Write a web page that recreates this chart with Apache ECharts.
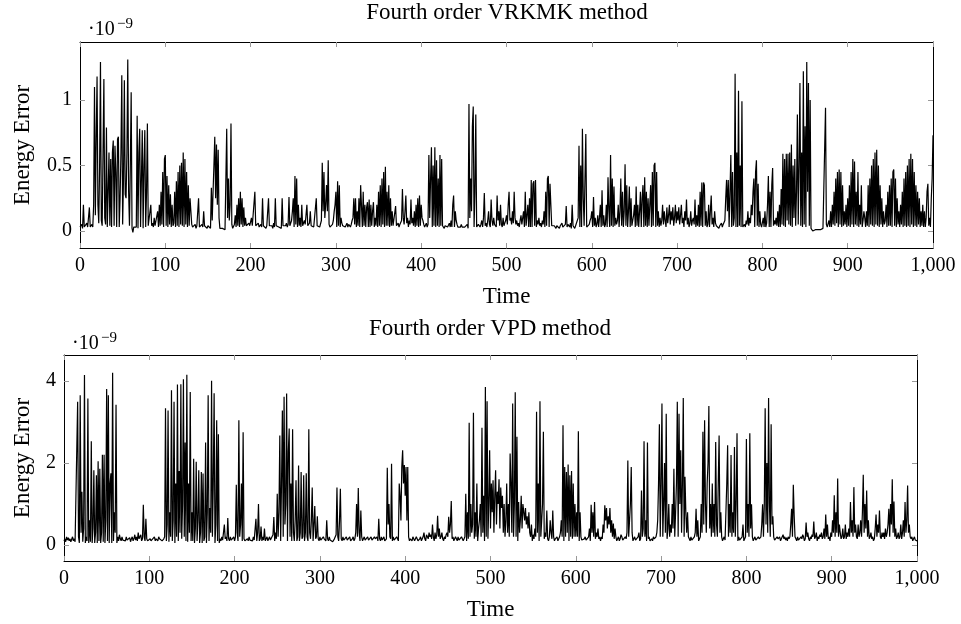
<!DOCTYPE html>
<html>
<head>
<meta charset="utf-8">
<script src="https://cdn.jsdelivr.net/npm/echarts@6/dist/echarts.min.js"></script>
<style>html,body{margin:0;padding:0;background:#fff}#c{width:961px;height:624px}</style>
</head>
<body>
<div id="c"></div>
<script>
// Energy error values in units of 0.01e-9, one value per time unit t = 0..1000
const vrkmkHundredths = [
3,2,5,2,20,3,4,2,6,3,
4,18,3,2,5,3,20,110,12,70,
118,20,6,50,129,8,4,60,116,10,
5,79,3,30,60,4,55,3,60,69,
4,65,45,3,70,72,3,25,60,119,
5,40,115,28,25,60,131,30,4,50,
106,2,-1,3,2,4,3,88,2,60,
78,3,40,77,2,50,77,3,30,82,
4,3,5,20,4,6,3,10,4,3,
5,15,3,20,4,30,5,45,3,55,
58,4,42,3,35,5,28,3,20,4,
6,30,3,38,4,45,3,50,5,52,
4,60,3,55,5,45,3,35,4,25,
15,5,3,4,3,5,2,4,3,25,
3,4,2,5,3,15,4,3,5,2,
4,3,5,2,33,8,30,50,72,25,
66,20,62,10,2,1,1,2,1,2,
1,2,78,10,40,8,20,82,5,2,
3,5,12,3,20,4,25,3,30,5,
25,3,18,4,10,4,5,3,6,4,
3,10,4,5,3,30,4,3,5,6,
3,4,5,3,25,4,3,5,2,4,
3,25,4,5,3,4,2,6,3,25,
4,3,5,3,4,3,2,25,4,5,
3,4,6,3,5,26,4,3,8,15,
25,3,42,5,40,3,20,4,10,3,
20,4,3,8,5,4,20,4,3,6,
15,4,3,5,3,4,3,25,4,3,
5,3,2,8,52,15,45,10,20,35,
15,54,5,3,4,3,5,8,15,20,
30,3,38,4,35,3,10,6,4,3,
5,3,4,6,3,5,4,3,5,8,
10,25,5,25,3,15,4,25,3,35,
36,3,30,4,20,3,18,22,3,24,
3,20,4,15,22,3,10,4,20,3,
30,4,35,3,40,5,45,3,49,4,
30,4,35,3,25,4,15,4,3,5,
19,4,3,6,3,5,4,8,32,10,
5,15,27,6,10,3,8,5,24,6,
10,4,15,3,20,4,25,3,27,4,
20,10,8,5,3,4,6,3,5,58,
10,40,64,3,50,4,64,3,54,4,
40,3,58,4,55,4,3,2,4,3,
5,3,4,6,3,8,3,20,27,3,
15,8,5,3,4,2,3,5,3,4,
2,3,4,3,5,2,97,10,40,15,
80,95,3,30,89,3,4,5,6,3,
5,8,3,10,29,4,6,3,8,15,
5,3,24,8,4,10,5,6,3,27,
8,15,4,20,5,3,10,4,6,8,
12,5,20,30,8,10,5,15,6,30,
10,5,8,4,6,3,8,12,5,10,
15,3,30,4,5,20,3,25,3,39,
3,36,38,4,39,3,8,5,10,4,
6,3,8,5,15,3,30,4,40,42,
3,36,20,4,5,3,4,3,2,4,
3,5,2,4,3,6,3,4,2,5,
19,3,5,4,3,6,2,20,4,3,
2,4,3,5,10,65,3,50,3,78,
25,4,40,74,3,3,4,5,8,10,
15,3,26,4,10,3,5,12,3,10,
20,3,31,4,12,3,5,20,3,41,
15,3,58,4,40,3,34,4,10,5,
8,20,3,15,40,4,30,3,15,51,
4,35,3,15,34,3,25,4,8,12,
20,3,34,4,20,3,15,30,3,25,
35,3,41,4,30,3,25,4,20,35,
3,45,4,50,52,3,45,4,15,3,
10,4,8,20,5,15,8,3,18,6,
12,20,5,15,8,18,4,10,20,6,
15,8,18,5,12,20,6,10,3,15,
8,24,5,10,3,6,15,4,8,10,
5,24,3,12,4,20,3,30,4,37,
3,37,35,4,15,3,5,20,3,3,
27,5,10,3,15,6,4,3,5,2,
4,3,6,3,5,4,8,25,39,15,
39,3,30,58,3,45,4,10,120,3,
60,3,107,4,50,3,99,3,4,5,
3,8,5,15,4,10,6,20,12,30,
40,3,45,54,4,36,3,15,5,3,
4,10,3,15,3,6,20,42,3,30,
3,35,48,4,8,5,10,4,15,3,
20,3,32,5,59,4,55,3,59,8,
59,5,60,4,66,3,50,10,55,4,
30,89,5,50,113,4,60,3,122,5,
80,3,129,30,113,4,100,2,1,0,
1,0,1,1,0,1,0,1,1,0,
1,2,1,3,94,5,3,4,8,3,
15,3,20,5,30,4,40,6,45,3,
47,5,45,3,35,4,15,5,20,3,
25,4,35,3,45,5,55,3,53,5,
30,4,45,3,20,5,35,3,8,15,
10,3,15,4,35,3,40,5,50,4,
55,3,60,5,62,4,50,3,35,5,
25,3,15,5,8,20,3,30,4,35,
4,40,3,45,47,4,40,3,25,5,
15,3,20,5,30,3,40,4,45,3,
50,4,55,3,59,5,55,3,45,4,
35,3,30,5,25,3,15,4,20,3,
15,3,10,30,36,4,10,3,25,40,
73
];

const vpdHundredths = [
10,15,8,20,12,18,10,15,8,12,
20,10,15,8,12,10,349,20,5,365,
30,130,8,40,414,5,20,10,357,5,
60,8,253,5,40,182,5,30,170,5,
204,10,186,5,30,220,8,220,5,60,
380,10,365,5,150,175,5,420,10,80,
30,342,5,20,10,25,15,10,20,12,
8,15,10,20,12,15,10,18,8,15,
20,10,15,25,12,20,10,30,15,20,
25,10,15,98,20,10,64,15,10,8,
12,15,10,8,15,12,20,10,15,12,
10,20,15,12,18,10,8,15,20,333,
10,50,328,8,80,20,377,10,60,349,
5,150,20,391,10,180,30,392,15,100,
404,20,250,10,415,8,150,30,373,10,
80,10,210,5,40,203,10,60,182,5,
30,178,5,174,10,20,250,5,80,365,
10,90,30,400,20,150,370,5,50,304,
10,270,5,15,10,20,12,10,50,15,
20,10,66,15,10,20,12,10,15,20,
10,20,147,30,10,304,20,50,150,10,
275,15,10,12,8,15,10,20,12,10,
15,10,20,12,15,64,10,30,100,10,
15,45,10,20,12,40,10,15,20,10,
15,20,12,10,15,25,68,10,30,15,
125,20,80,267,10,150,328,20,361,50,
100,369,10,228,284,20,150,10,282,30,
10,60,158,10,20,194,10,30,178,15,
20,170,10,30,175,20,10,282,30,15,
60,140,10,50,95,15,20,70,15,10,
20,12,15,10,20,15,12,10,60,15,
10,20,12,15,10,8,12,15,20,25,
140,20,10,60,137,15,10,20,12,15,
10,20,12,8,15,20,10,12,15,20,
10,15,30,100,20,139,30,10,84,20,
10,15,20,12,10,15,20,12,10,15,
20,12,15,10,20,15,12,20,10,64,
15,10,20,12,15,20,10,12,15,188,
50,100,20,15,198,10,20,12,15,10,
20,15,10,150,120,60,190,231,150,195,
120,190,60,190,20,10,15,12,10,20,
15,10,12,20,15,10,12,15,20,10,
15,20,30,15,10,25,20,15,30,20,
25,15,50,20,10,30,15,25,71,20,
40,15,20,30,15,10,20,15,25,30,
20,69,30,50,107,15,20,10,15,20,
15,10,20,12,15,10,20,15,10,12,
20,125,10,80,15,298,20,100,30,50,
322,15,80,20,150,10,40,60,100,20,
286,30,120,10,385,20,350,15,100,231,
40,150,80,158,30,120,182,50,130,100,
160,40,140,90,120,30,100,20,60,150,
30,100,20,223,150,30,345,20,100,372,
20,264,10,105,30,60,120,40,100,80,
60,90,50,70,40,80,30,20,50,10,
25,15,40,20,325,30,150,10,350,20,
60,100,276,15,30,20,84,15,10,20,
60,30,15,84,20,10,15,12,20,10,
15,20,30,60,20,292,10,190,20,178,
30,196,10,170,20,180,15,150,20,100,
20,80,20,277,10,80,20,12,15,10,
15,20,12,10,15,20,40,10,98,30,
80,20,105,15,30,20,40,15,20,10,
20,15,50,30,97,60,90,40,70,50,
90,30,60,20,52,15,40,20,10,15,
20,10,15,25,20,12,15,10,20,15,
30,206,20,60,100,190,30,10,15,20,
12,10,15,20,30,10,15,133,20,40,
253,20,60,10,250,15,20,10,12,15,
10,20,15,12,20,30,60,150,294,20,
150,345,20,100,200,30,320,15,40,100,
20,50,30,100,40,186,20,80,150,349,
20,320,100,231,30,150,358,20,166,80,
30,80,20,15,10,20,12,15,10,20,
30,88,20,60,10,15,20,100,30,276,
50,304,100,30,150,200,339,40,100,20,
150,30,100,20,251,50,20,150,267,30,
80,20,10,15,20,12,10,150,243,20,
100,30,219,20,80,30,239,20,100,272,
10,20,12,15,10,20,50,10,15,20,
258,30,100,20,272,40,99,20,10,15,
20,12,15,10,20,15,12,20,50,99,
20,100,333,50,200,30,358,100,20,294,
50,70,20,12,15,10,20,15,12,20,
10,15,20,25,15,20,12,18,10,20,
15,20,50,88,20,147,72,20,15,10,
20,12,15,10,20,15,25,20,10,15,
55,20,30,15,10,20,15,25,20,57,
15,20,30,10,20,15,25,20,30,15,
20,40,15,74,20,50,15,20,10,30,
20,60,30,121,20,80,30,162,20,50,
30,15,20,40,15,20,50,15,30,20,
40,20,105,30,60,20,141,30,50,20,
15,50,20,30,60,20,80,171,30,100,
40,133,20,60,15,20,30,15,20,10,
15,40,74,20,50,30,84,20,15,30,
20,30,15,40,20,30,50,88,20,100,
50,160,30,106,20,40,15,20,30,15,
20,50,15,30,60,20,105,30,60,145,
30,50,20,15,20,10,15,20,12,15,
10
];

const topYTicks = [0, 0.5, 1];
const bottomYTicks = [0, 2, 4];
const titles = ['Fourth order VRKMK method', 'Fourth order VPD method'];
const xName = 'Time';
const yName = 'Energy Error';

const FONT = '"Liberation Serif", "DejaVu Serif", serif';
const topData = vrkmkHundredths.map((v, i) => [i, v / 100]);
const bottomData = vpdHundredths.map((v, i) => [i, v / 100]);

const chart = echarts.init(document.getElementById('c'), null, {renderer: 'canvas'});

function xAxes(grid) {
  const base = {
    type: 'value', gridIndex: grid, min: 0, max: 1000, interval: 100,
    axisLine: {show: true, onZero: false, lineStyle: {color: '#000', width: 1}},
    axisTick: {show: true, inside: true, length: 5, lineStyle: {color: '#999', width: 1}},
    splitLine: {show: false}
  };
  return [
    Object.assign({}, base, {
      position: 'bottom',
      axisLabel: {show: true, margin: 8, color: '#000', fontFamily: FONT, fontSize: 20,
        formatter: v => v.toLocaleString('en-US')},
      name: xName, nameLocation: 'middle', nameGap: 37,
      nameTextStyle: {color: '#000', fontFamily: FONT, fontSize: 23}
    }),
    Object.assign({}, base, {position: 'top', axisLabel: {show: false}})
  ];
}
function yAxes(grid, min, max, ticks, nameGap) {
  const base = {
    type: 'value', gridIndex: grid, min: min, max: max,
    axisLine: {show: true, onZero: false, lineStyle: {color: '#000', width: 1}},
    axisTick: {show: true, inside: true, length: 5, customValues: ticks, lineStyle: {color: '#999', width: 1}},
    splitLine: {show: false}
  };
  return [
    Object.assign({}, base, {
      position: 'left',
      axisLabel: {show: true, margin: 8, color: '#000', fontFamily: FONT, fontSize: 20,
        customValues: ticks, formatter: v => String(v)},
      name: yName, nameLocation: 'middle', nameGap: nameGap, nameRotate: 90,
      nameTextStyle: {color: '#000', fontFamily: FONT, fontSize: 23}
    }),
    Object.assign({}, base, {position: 'right', axisLabel: {show: false}})
  ];
}

const option = {
  animation: false,
  grid: [
    {left: 80, right: 28, top: 42, height: 206},
    {left: 64, right: 44, top: 355, height: 206}
  ],
  xAxis: [...xAxes(0), ...xAxes(1)],
  yAxis: [...yAxes(0, -0.13, 1.443, topYTicks, 46), ...yAxes(1, -0.39, 4.63, bottomYTicks, 30)],
  series: [
    {type: 'line', xAxisIndex: 0, yAxisIndex: 0, data: topData, showSymbol: false, symbol: 'none',
     sampling: false, lineStyle: {color: '#000', width: 1.2}},
    {type: 'line', xAxisIndex: 2, yAxisIndex: 2, data: bottomData, showSymbol: false, symbol: 'none',
     sampling: false, lineStyle: {color: '#000', width: 1.2}}
  ],
  graphic: [
    {type: 'text', x: 507, y: 13, style: {text: titles[0], fill: '#000', font: '23px ' + FONT, textAlign: 'center', textVerticalAlign: 'middle'}},
    {type: 'text', x: 490, y: 329, style: {text: titles[1], fill: '#000', font: '23px ' + FONT, textAlign: 'center', textVerticalAlign: 'middle'}},
    {type: 'text', x: 88, y: 30, style: {text: '·10', fill: '#000', font: '20px ' + FONT, textAlign: 'left', textVerticalAlign: 'middle'}},
    {type: 'text', x: 117, y: 24, style: {text: '−9', fill: '#000', font: '15px ' + FONT, textAlign: 'left', textVerticalAlign: 'middle'}},
    {type: 'text', x: 72, y: 344, style: {text: '·10', fill: '#000', font: '20px ' + FONT, textAlign: 'left', textVerticalAlign: 'middle'}},
    {type: 'text', x: 101, y: 338, style: {text: '−9', fill: '#000', font: '15px ' + FONT, textAlign: 'left', textVerticalAlign: 'middle'}}
  ]
};
chart.setOption(option);
</script>
</body>
</html>
